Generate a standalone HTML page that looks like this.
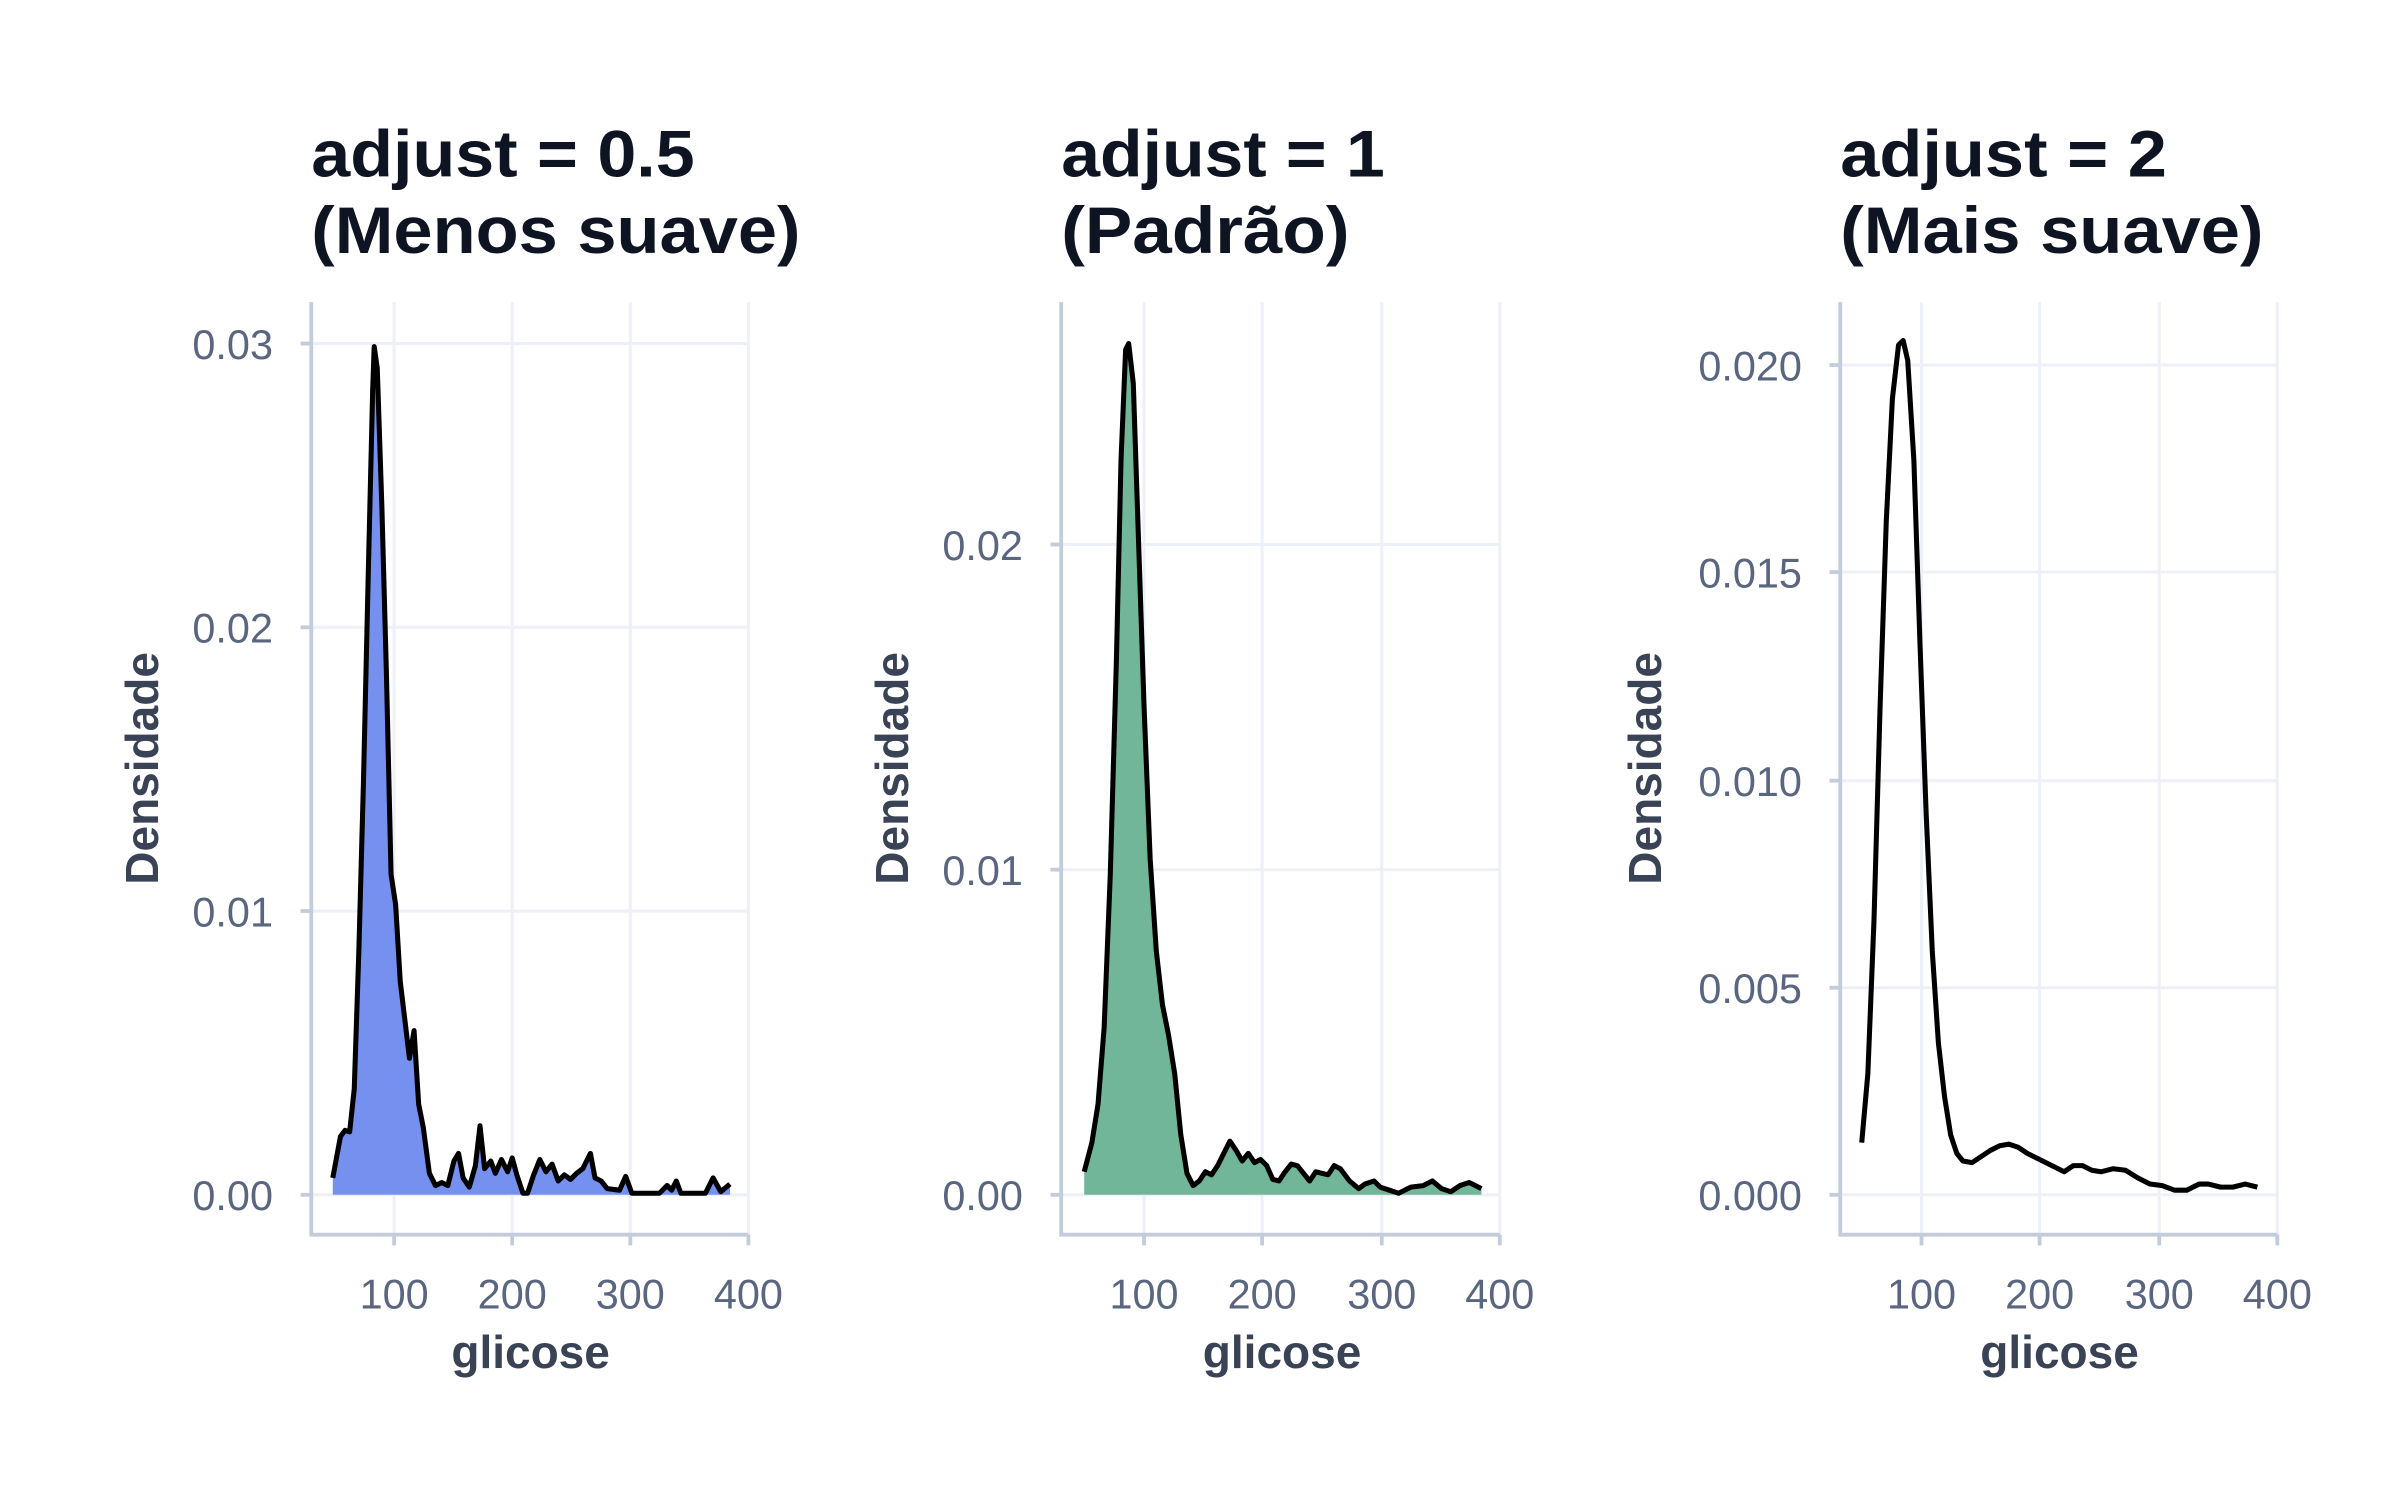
<!DOCTYPE html>
<html><head><meta charset="utf-8"><style>
html,body{margin:0;padding:0;background:#fff;}
svg{display:block;}
text{font-family:"Liberation Sans",sans-serif;}
.t{font-weight:bold;font-size:43px;fill:#0f1422;}
.tk{font-size:27px;fill:#5a6680;}
.ax{font-weight:bold;font-size:30px;fill:#394355;}
.g{stroke:#edf0f6;stroke-width:2;}
.a{stroke:#c3ccdb;stroke-width:2.5;}
.c{fill:none;stroke:#000;stroke-width:3.3;stroke-linejoin:round;}
</style></head><body>
<svg width="2400" height="1500" viewBox="0 0 1565 978" preserveAspectRatio="none" xmlns="http://www.w3.org/2000/svg">
<!-- Panel 1 -->
<text class="t" x="203" y="115" textLength="250" lengthAdjust="spacingAndGlyphs">adjust = 0.5</text>
<text class="t" x="203" y="165" textLength="319" lengthAdjust="spacingAndGlyphs">(Menos suave)</text>
<g class="g">
<line x1="257" y1="197" x2="257" y2="805"/><line x1="334" y1="197" x2="334" y2="805"/><line x1="411" y1="197" x2="411" y2="805"/><line x1="488" y1="197" x2="488" y2="805"/>
<line x1="203" y1="779" x2="488" y2="779"/><line x1="203" y1="594" x2="488" y2="594"/><line x1="203" y1="409" x2="488" y2="409"/><line x1="203" y1="224" x2="488" y2="224"/>
</g>
<g class="a"><line x1="203" y1="197" x2="203" y2="806"/><line x1="202" y1="805" x2="488" y2="805"/>
<line x1="196" y1="779" x2="203" y2="779"/><line x1="196" y1="594" x2="203" y2="594"/><line x1="196" y1="409" x2="203" y2="409"/><line x1="196" y1="224" x2="203" y2="224"/>
<line x1="257" y1="805" x2="257" y2="812"/><line x1="334" y1="805" x2="334" y2="812"/><line x1="411" y1="805" x2="411" y2="812"/><line x1="488" y1="805" x2="488" y2="812"/></g>
<g class="tk" text-anchor="end"><text x="178" y="789">0.00</text><text x="178" y="604">0.01</text><text x="178" y="419">0.02</text><text x="178" y="234">0.03</text></g>
<g class="tk" text-anchor="middle"><text x="257" y="853">100</text><text x="334" y="853">200</text><text x="411" y="853">300</text><text x="488" y="853">400</text></g>
<text class="ax" x="346" y="892" text-anchor="middle">glicose</text>
<text class="ax" transform="translate(103,501) rotate(-90)" text-anchor="middle">Densidade</text>
<polygon fill="#7590ee" points="217,779 217,768 222,741 225,737 228,738 231,710 234,620 237,510 240,380 243,255 244,226 246,240 249,330 252,440 255,570 258,590 261,640 264,665 267,690 270,672 273,720 276,735 280,765 284,773 288,771 292,773 296,757 299,752 302,768 306,774 310,760 313,734 316,762 320,757 323,765 327,756 331,764 334,755 337,766 341,778 344,778 348,766 352,756 356,764 360,759 364,770 368,766 372,769 376,765 380,762 385,752 388,768 392,770 396,775 404,776 408,767 412,778 430,778 435,773 438,776 441,770 444,778 460,778 465,768 470,777 476,772 476,779"/>
<polyline class="c" points="217,768 222,741 225,737 228,738 231,710 234,620 237,510 240,380 243,255 244,226 246,240 249,330 252,440 255,570 258,590 261,640 264,665 267,690 270,672 273,720 276,735 280,765 284,773 288,771 292,773 296,757 299,752 302,768 306,774 310,760 313,734 316,762 320,757 323,765 327,756 331,764 334,755 337,766 341,778 344,778 348,766 352,756 356,764 360,759 364,770 368,766 372,769 376,765 380,762 385,752 388,768 392,770 396,775 404,776 408,767 412,778 430,778 435,773 438,776 441,770 444,778 460,778 465,768 470,777 476,772"/>

<!-- Panel 2 -->
<text class="t" x="692" y="115" textLength="211" lengthAdjust="spacingAndGlyphs">adjust = 1</text>
<text class="t" x="692" y="165" textLength="188" lengthAdjust="spacingAndGlyphs">(Padrão)</text>
<g class="g">
<line x1="746" y1="197" x2="746" y2="805"/><line x1="823" y1="197" x2="823" y2="805"/><line x1="901" y1="197" x2="901" y2="805"/><line x1="978" y1="197" x2="978" y2="805"/>
<line x1="692" y1="779" x2="978" y2="779"/><line x1="692" y1="567" x2="978" y2="567"/><line x1="692" y1="355" x2="978" y2="355"/>
</g>
<g class="a"><line x1="692" y1="197" x2="692" y2="806"/><line x1="691" y1="805" x2="978" y2="805"/>
<line x1="685" y1="779" x2="692" y2="779"/><line x1="685" y1="567" x2="692" y2="567"/><line x1="685" y1="355" x2="692" y2="355"/>
<line x1="746" y1="805" x2="746" y2="812"/><line x1="823" y1="805" x2="823" y2="812"/><line x1="901" y1="805" x2="901" y2="812"/><line x1="978" y1="805" x2="978" y2="812"/></g>
<g class="tk" text-anchor="end"><text x="667" y="789">0.00</text><text x="667" y="577">0.01</text><text x="667" y="365">0.02</text></g>
<g class="tk" text-anchor="middle"><text x="746" y="853">100</text><text x="823" y="853">200</text><text x="901" y="853">300</text><text x="978" y="853">400</text></g>
<text class="ax" x="836" y="892" text-anchor="middle">glicose</text>
<text class="ax" transform="translate(592,501) rotate(-90)" text-anchor="middle">Densidade</text>
<polygon fill="#72b69a" points="707,779 707,764 712,745 716,720 720,670 724,570 728,430 731,300 734,228 736,224 739,250 742,340 746,460 750,560 754,620 758,655 762,675 766,700 770,740 774,765 778,773 782,770 786,764 790,766 794,760 798,752 802,744 806,750 810,757 814,752 818,758 822,756 826,760 830,769 834,770 838,764 842,759 846,760 850,765 854,770 858,764 862,765 866,766 870,760 874,762 880,770 886,775 890,772 896,770 900,774 906,776 912,778 920,774 928,773 934,770 940,775 946,777 952,773 958,771 966,775 966,779"/>
<polyline class="c" points="707,764 712,745 716,720 720,670 724,570 728,430 731,300 734,228 736,224 739,250 742,340 746,460 750,560 754,620 758,655 762,675 766,700 770,740 774,765 778,773 782,770 786,764 790,766 794,760 798,752 802,744 806,750 810,757 814,752 818,758 822,756 826,760 830,769 834,770 838,764 842,759 846,760 850,765 854,770 858,764 862,765 866,766 870,760 874,762 880,770 886,775 890,772 896,770 900,774 906,776 912,778 920,774 928,773 934,770 940,775 946,777 952,773 958,771 966,775"/>

<!-- Panel 3 -->
<text class="t" x="1200" y="115" textLength="213" lengthAdjust="spacingAndGlyphs">adjust = 2</text>
<text class="t" x="1200" y="165" textLength="276" lengthAdjust="spacingAndGlyphs">(Mais suave)</text>
<g class="g">
<line x1="1253" y1="197" x2="1253" y2="805"/><line x1="1330" y1="197" x2="1330" y2="805"/><line x1="1408" y1="197" x2="1408" y2="805"/><line x1="1485" y1="197" x2="1485" y2="805"/>
<line x1="1200" y1="779" x2="1485" y2="779"/><line x1="1200" y1="644" x2="1485" y2="644"/><line x1="1200" y1="509" x2="1485" y2="509"/><line x1="1200" y1="373" x2="1485" y2="373"/><line x1="1200" y1="238" x2="1485" y2="238"/>
</g>
<g class="a"><line x1="1200" y1="197" x2="1200" y2="806"/><line x1="1199" y1="805" x2="1485" y2="805"/>
<line x1="1193" y1="779" x2="1200" y2="779"/><line x1="1193" y1="644" x2="1200" y2="644"/><line x1="1193" y1="509" x2="1200" y2="509"/><line x1="1193" y1="373" x2="1200" y2="373"/><line x1="1193" y1="238" x2="1200" y2="238"/>
<line x1="1253" y1="805" x2="1253" y2="812"/><line x1="1330" y1="805" x2="1330" y2="812"/><line x1="1408" y1="805" x2="1408" y2="812"/><line x1="1485" y1="805" x2="1485" y2="812"/></g>
<g class="tk" text-anchor="end"><text x="1175" y="789">0.000</text><text x="1175" y="654">0.005</text><text x="1175" y="519">0.010</text><text x="1175" y="383">0.015</text><text x="1175" y="248">0.020</text></g>
<g class="tk" text-anchor="middle"><text x="1253" y="853">100</text><text x="1330" y="853">200</text><text x="1408" y="853">300</text><text x="1485" y="853">400</text></g>
<text class="ax" x="1343" y="892" text-anchor="middle">glicose</text>
<text class="ax" transform="translate(1083,501) rotate(-90)" text-anchor="middle">Densidade</text>
<polyline class="c" points="1214,745 1218,700 1222,600 1226,460 1230,340 1234,260 1238,225 1241,222 1244,235 1248,300 1252,420 1256,530 1260,620 1264,680 1268,715 1272,740 1276,752 1280,757 1286,758 1292,754 1298,750 1304,747 1310,746 1316,748 1322,752 1330,756 1338,760 1346,764 1352,760 1358,760 1364,763 1370,764 1378,762 1386,763 1394,768 1402,772 1410,773 1418,776 1426,776 1434,772 1440,772 1448,774 1456,774 1464,772 1472,774"/>
</svg>
</body></html>
